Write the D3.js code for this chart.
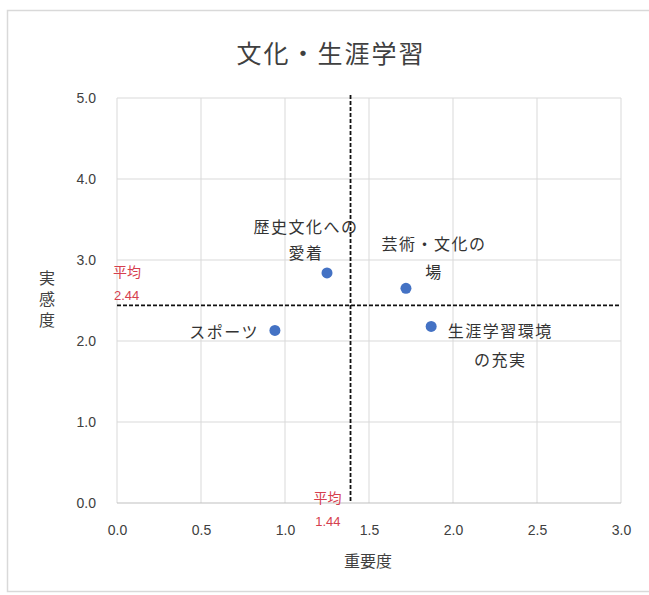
<!DOCTYPE html>
<html><head><meta charset="utf-8">
<script src="https://cdn.jsdelivr.net/npm/d3@7"></script>
<style>
html,body{margin:0;padding:0;background:#fff;}
svg{display:block;}
</style></head>
<body>
<script>
const categories = ["スポーツ","歴史文化への愛着","芸術・文化の場","生涯学習環境の充実"];
const labelLines = [["スポーツ"],["歴史文化への","愛着"],["芸術・文化の","場"],["生涯学習環境","の充実"]];
const importance = [0.94, 1.25, 1.72, 1.87];
const satisfaction = [2.13, 2.84, 2.65, 2.18];
const xTicks = [0, 0.5, 1.0, 1.5, 2.0, 2.5, 3.0];
const yTicks = [0, 1, 2, 3, 4, 5];
const avgX = 1.39, avgXText = "1.44";
const avgY = 2.44, avgYText = "2.44";
const title = "文化・生涯学習";
const xTitle = "重要度";
const yTitle = "実感度";

const W = 649, H = 595;
const jp = "'Noto Sans CJK JP','Noto Sans',sans-serif";
const num = "'Liberation Sans','DejaVu Sans',sans-serif";
const svg = d3.select("body").append("svg").attr("width", W).attr("height", H);

svg.append("rect").attr("x", 7.5).attr("y", 10.5).attr("width", 660).attr("height", 581)
  .attr("fill", "#fff").attr("stroke", "#d9d9d9").attr("stroke-width", 1.5);

const x = d3.scaleLinear().domain([0, 3]).range([117, 621]);
const y = d3.scaleLinear().domain([0, 5]).range([503, 98]);

// gridlines
const g = svg.append("g");
g.selectAll(".vg").data(xTicks).join("line")
  .attr("x1", d => x(d)).attr("x2", d => x(d)).attr("y1", y(5)).attr("y2", y(0))
  .attr("stroke", "#d9d9d9").attr("stroke-width", 1);
g.selectAll(".hg").data(yTicks).join("line")
  .attr("x1", x(0)).attr("x2", x(3)).attr("y1", d => y(d)).attr("y2", d => y(d))
  .attr("stroke", d => d === 0 ? "#bfbfbf" : "#d9d9d9").attr("stroke-width", 1);

// axes tick labels
const xAxis = d3.axisBottom(x).tickValues(xTicks).tickFormat(d3.format(".1f")).tickSize(0).tickPadding(22);
const yAxis = d3.axisLeft(y).tickValues(yTicks).tickFormat(d3.format(".1f")).tickSize(0).tickPadding(21);
const xa = svg.append("g").attr("transform", `translate(0,${y(0)})`).call(xAxis);
const ya = svg.append("g").attr("transform", `translate(${x(0)},0)`).call(yAxis);
[xa, ya].forEach(a => {
  a.select(".domain").remove();
  a.selectAll("text").attr("fill", "#404040").attr("font-family", num).attr("font-size", 14);
});

// mean lines
svg.append("line").attr("x1", x(avgX)).attr("x2", x(avgX)).attr("y1", y(5) - 3).attr("y2", y(0))
  .attr("stroke", "#111").attr("stroke-width", 1.8).attr("stroke-dasharray", "4,2");
svg.append("line").attr("x1", x(0)).attr("x2", x(3)).attr("y1", y(avgY)).attr("y2", y(avgY))
  .attr("stroke", "#111").attr("stroke-width", 1.8).attr("stroke-dasharray", "4,2");

// mean labels
const red = "#d6404e";
const mY = svg.append("g").attr("fill", red).attr("font-size", 14);
mY.append("text").attr("x", x(0) - 4).attr("y", y(avgY) - 34).attr("dominant-baseline", "central")
  .attr("font-family", jp).text("平均");
mY.append("text").attr("x", x(0) - 3).attr("y", y(avgY) - 10).attr("dominant-baseline", "central")
  .attr("font-family", num).attr("font-size", 13).text(avgYText);
const mX = svg.append("g").attr("fill", red).attr("font-size", 14).attr("text-anchor", "end");
mX.append("text").attr("x", x(avgX) - 9).attr("y", y(0) - 6).attr("dominant-baseline", "central")
  .attr("font-family", jp).text("平均");
mX.append("text").attr("x", x(avgX) - 10).attr("y", y(0) + 18).attr("dominant-baseline", "central")
  .attr("font-family", num).attr("font-size", 13).text(avgXText);

// points
const data = categories.map((c, i) => ({c, lines: labelLines[i], x: importance[i], y: satisfaction[i]}));
svg.selectAll(".pt").data(data).join("circle")
  .attr("cx", d => x(d.x)).attr("cy", d => y(d.y)).attr("r", 5.5)
  .attr("fill", "#4472c4");

// labels (offsets relative to points)
const offs = [
  {anchor: "end", dx: -16, dy: [1]},
  {anchor: "middle", dx: -22, dy: [-47, -21]},
  {anchor: "middle", dx: 27, dy: [-45, -17]},
  {anchor: "middle", dx: 68, dy: [4, 33]}
];
data.forEach((d, i) => {
  const o = offs[i];
  d.lines.forEach((ln, j) => {
    svg.append("text")
      .attr("x", x(d.x) + o.dx + (o.anchor === "middle" ? 1 : 0))
      .attr("y", y(d.y) + o.dy[j])
      .attr("text-anchor", o.anchor).attr("dominant-baseline", "central")
      .attr("font-family", jp).attr("font-size", 16).attr("letter-spacing", 1.5)
      .attr("fill", "#333").text(ln);
  });
});

// titles
svg.append("text").attr("x", 331).attr("y", 52).attr("text-anchor", "middle").attr("dominant-baseline", "central")
  .attr("font-family", jp).attr("font-size", 25).attr("letter-spacing", 2).attr("fill", "#404040").text(title);
svg.append("text").attr("x", 368).attr("y", 560).attr("text-anchor", "middle").attr("dominant-baseline", "central")
  .attr("font-family", jp).attr("font-size", 16).attr("fill", "#404040").text(xTitle);
svg.append("text").attr("x", 47).attr("y", 270)
  .attr("writing-mode", "vertical-rl").attr("text-anchor", "start")
  .attr("font-family", jp).attr("font-size", 16).attr("letter-spacing", 5).attr("fill", "#404040").text(yTitle);
</script>
</body></html>
